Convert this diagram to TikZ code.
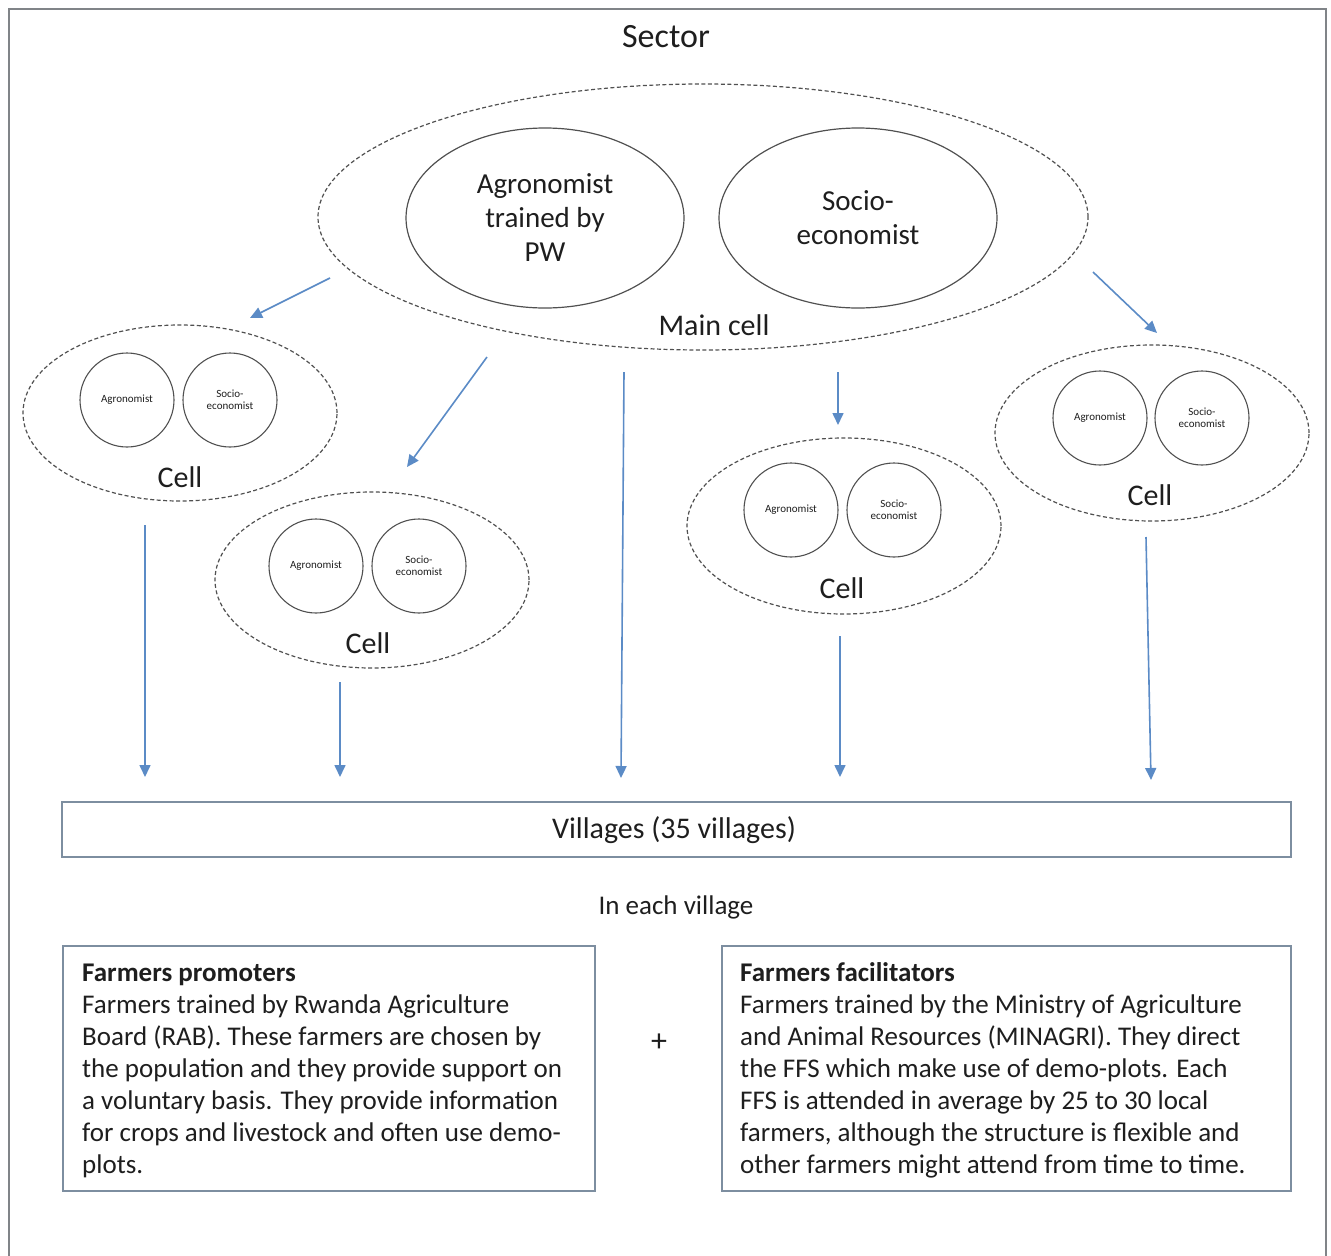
\documentclass[tikz,border=0pt]{standalone}
\usepackage{fontspec}
\setmainfont{Carlito}
\usetikzlibrary{arrows.meta,shapes.geometric}
\definecolor{arrblue}{RGB}{91,139,198}
\definecolor{txt}{RGB}{30,30,30}
\definecolor{lin}{RGB}{80,80,80}
\definecolor{boxc}{RGB}{125,142,160}
\definecolor{framec}{RGB}{128,132,136}
\begin{document}
\begin{tikzpicture}[x=1pt,y=-1pt,
  lbl/.style={font=\fontsize{30}{35}\selectfont, text=txt, inner sep=0, align=center},
  cellell/.style={ellipse, draw=lin, dash pattern=on 4pt off 2.5pt, line width=1.2pt,
     minimum width=314, minimum height=176, inner sep=0},
  role/.style={circle, draw=lin, line width=1.1pt, minimum size=94, inner sep=0,
     font=\fontsize{11}{12}\selectfont, text=txt, align=center},
  bigrole/.style={ellipse, draw=lin, line width=1.2pt, minimum width=278, minimum height=180,
     inner sep=0, font=\fontsize{29}{34}\selectfont, text=txt, align=center},
  arr/.style={draw=arrblue, line width=1.6pt, -{Triangle[length=12pt,width=11pt]}},
  boxst/.style={draw=boxc, line width=1.3pt, inner sep=0},
  body/.style={font=\fontsize{27}{32}\selectfont, text=txt, inner sep=0, align=left, anchor=north west}
]
\useasboundingbox (0,0) rectangle (1331,1256);
\draw[framec, line width=1.6pt] (9,1262) -- (9,9) -- (1326,9) -- (1326,1262);

\node[lbl, font=\fontsize{34}{40}\selectfont] (sector) at (666,37) {Sector};

% main cell
\node[ellipse, draw=lin, dash pattern=on 4pt off 2.5pt, line width=1.2pt,
      minimum width=770, minimum height=266, inner sep=0] (main) at (703,217) {};
\node[bigrole] (agro) at (545,218) {Agronomist\\trained by\\PW};
\node[bigrole] (socio) at (858,218) {Socio-\\economist};
\node[lbl] (mainlbl) at (714,325) {Main cell};

% cells
\node[cellell] (cell1) at (180,413) {};
\node[role] (c1a) at (127,400) {Agronomist};
\node[role] (c1s) at (230,400) {Socio-\\economist};
\node[lbl] (c1l) at (180,477) {Cell};

\node[cellell] (cell2) at (372,580) {};
\node[role] (c2a) at (316,566) {Agronomist};
\node[role] (c2s) at (419,566) {Socio-\\economist};
\node[lbl] (c2l) at (368,643) {Cell};

\node[cellell] (cell3) at (844,526) {};
\node[role] (c3a) at (791,510) {Agronomist};
\node[role] (c3s) at (894,510) {Socio-\\economist};
\node[lbl] (c3l) at (842,588) {Cell};

\node[cellell] (cell4) at (1152,433) {};
\node[role] (c4a) at (1100,418) {Agronomist};
\node[role] (c4s) at (1202,418) {Socio-\\economist};
\node[lbl] (c4l) at (1150,495) {Cell};

% villages
\node[boxst, minimum width=1229, minimum height=55] (vill) at (676.5,829.5) {};
\node[lbl] (villlbl) at (674,830) {Villages (35 villages)};
\node[lbl, font=\fontsize{27}{32}\selectfont] (each) at (676,907) {In each village};

% arrow end points
\coordinate (s1) at (330,278); \coordinate (e1) at (250,318);
\coordinate (s2) at (487,357); \coordinate (e2) at (407,467);
\coordinate (s3) at (1093,272); \coordinate (e3) at (1157,333);
\coordinate (s4) at (838,372); \coordinate (e4) at (838,425);
\coordinate (s5) at (624,372); \coordinate (e5) at (621,778);
\coordinate (s6) at (145,525); \coordinate (e6) at (145,777);
\coordinate (s7) at (340,682); \coordinate (e7) at (340,777);
\coordinate (s8) at (840,636); \coordinate (e8) at (840,777);
\coordinate (s9) at (1146,537); \coordinate (e9) at (1151,780);
\foreach \i in {1,...,9} {\draw[arr] (s\i) -- (e\i);}

% bottom boxes
\node[boxst, minimum width=532, minimum height=245] (prom) at (329,1068.5) {};
\node[body] (promtxt) at (82,964) {{\bfseries Farmers promoters}\\
Farmers trained by Rwanda Agriculture\\
Board (RAB). These farmers are chosen by\\
the population and they provide support on\\
a voluntary basis. They provide information\\
for crops and livestock and often use demo-\\
plots.};
\node[lbl, font=\fontsize{32}{36}\selectfont] (plus) at (659,1043) {+};
\node[boxst, minimum width=569, minimum height=245] (facil) at (1006.5,1068.5) {};
\node[body] (faciltxt) at (740,962) {{\bfseries Farmers facilitators}\\
Farmers trained by the Ministry of Agriculture\\
and Animal Resources (MINAGRI). They direct\\
the FFS which make use of demo-plots. Each\\
FFS is attended in average by 25 to 30 local\\
farmers, although the structure is flexible and\\
other farmers might attend from time to time.};
\end{tikzpicture}
\end{document}
